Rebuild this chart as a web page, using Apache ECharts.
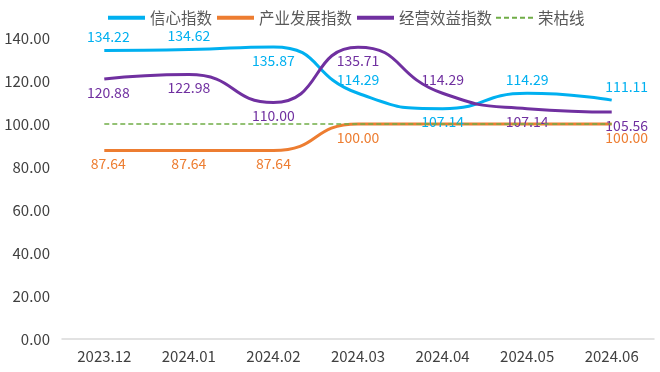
<!DOCTYPE html>
<html>
<head>
<meta charset="utf-8">
<script src="https://cdn.jsdelivr.net/npm/echarts@6/dist/echarts.min.js"></script>
<style>html,body{margin:0;padding:0;background:#fff}#c{width:660px;height:372px}</style>
</head>
<body>
<div id="c"></div>
<script>
const categories = ['2023.12','2024.01','2024.02','2024.03','2024.04','2024.05','2024.06'];
const seriesNames = ['信心指数','产业发展指数','经营效益指数','荣枯线'];
const confidence = [134.22, 134.62, 135.87, 114.29, 107.14, 114.29, 111.11];
const industry = [87.64, 87.64, 87.64, 100.00, 100.00, 100.00, 100.00];
const operation = [120.88, 122.98, 110.00, 135.71, 114.29, 107.14, 105.56];
const boomLine = [100, 100, 100, 100, 100, 100, 100];
const yTicks = [0, 20, 40, 60, 80, 100, 120, 140];

const FONT = '"Noto Sans CJK SC", "Noto Sans", sans-serif';
const colors = ['#00B0F0', '#ED7D31', '#7030A0', '#70AD47'];

// label placement per point (style only)
const posBlue = ['top','top','bottom','top','bottom','top','top'];
const posOrange = ['bottom','bottom','bottom','bottom',null,null,'bottom'];
const posPurple = ['bottom','bottom','bottom','bottom','top','bottom','bottom'];

function build(values, pos, color) {
  return values.map((v, i) => {
    const p = pos[i];
    const item = { value: v };
    if (!p) { item.label = { show: false }; return item; }
    const off = i === values.length - 1 ? [15, 0] : (i === 0 ? [4, 0] : [0, 0]);
    item.label = { show: true, position: p, offset: off, color: color };
    return item;
  });
}

const chart = echarts.init(document.getElementById('c'), null, { renderer: 'canvas' });
const labelBase = { show: true, fontSize: 14, fontFamily: FONT, distance: 6, formatter: p => Number(p.value).toFixed(2) };

function lineSeries(idx, values, pos) {
  return {
    name: seriesNames[idx], type: 'line', smooth: 0.55,
    symbol: 'circle', symbolSize: 1, showSymbol: true, z: 3,
    itemStyle: { color: 'rgba(0,0,0,0)' },
    lineStyle: { width: 3, color: colors[idx] },
    label: Object.assign({}, labelBase, { color: colors[idx] }),
    emphasis: { disabled: true },
    data: build(values, pos, colors[idx])
  };
}

chart.setOption({
  animation: false,
  legend: {
    top: 5,
    left: 101,
    itemWidth: 37,
    itemHeight: 14,
    itemGap: 3,
    textStyle: { fontSize: 15.5, color: '#595959', fontFamily: FONT },
    data: seriesNames.map((n, i) => i < 3
      ? { name: n, lineStyle: { width: 4 } }
      : { name: n, lineStyle: { width: 2 } })
  },
  grid: { left: 62, right: 6, top: 38, bottom: 33 },
  xAxis: {
    type: 'category',
    data: categories,
    boundaryGap: true,
    axisLine: { lineStyle: { color: '#d9d9d9', width: 1.5 } },
    axisTick: { show: false },
    axisLabel: { color: '#404040', fontSize: 15, fontFamily: FONT, margin: 10 }
  },
  yAxis: {
    type: 'value',
    min: yTicks[0],
    max: yTicks[yTicks.length - 1],
    interval: yTicks[1] - yTicks[0],
    axisLine: { show: false },
    axisTick: { show: false },
    splitLine: { show: false },
    axisLabel: { color: '#404040', fontSize: 15, fontFamily: FONT, margin: 12, formatter: v => v.toFixed(2) }
  },
  series: [
    lineSeries(0, confidence, posBlue),
    lineSeries(1, industry, posOrange),
    lineSeries(2, operation, posPurple),
    {
      name: seriesNames[3], type: 'line', symbol: 'circle', symbolSize: 1, showSymbol: false, z: 4,
      itemStyle: { color: 'rgba(0,0,0,0)' },
      lineStyle: { width: 1.5, color: colors[3], type: [5, 3] },
      label: { show: false },
      emphasis: { disabled: true },
      data: boomLine
    }
  ]
});
</script>
</body>
</html>
